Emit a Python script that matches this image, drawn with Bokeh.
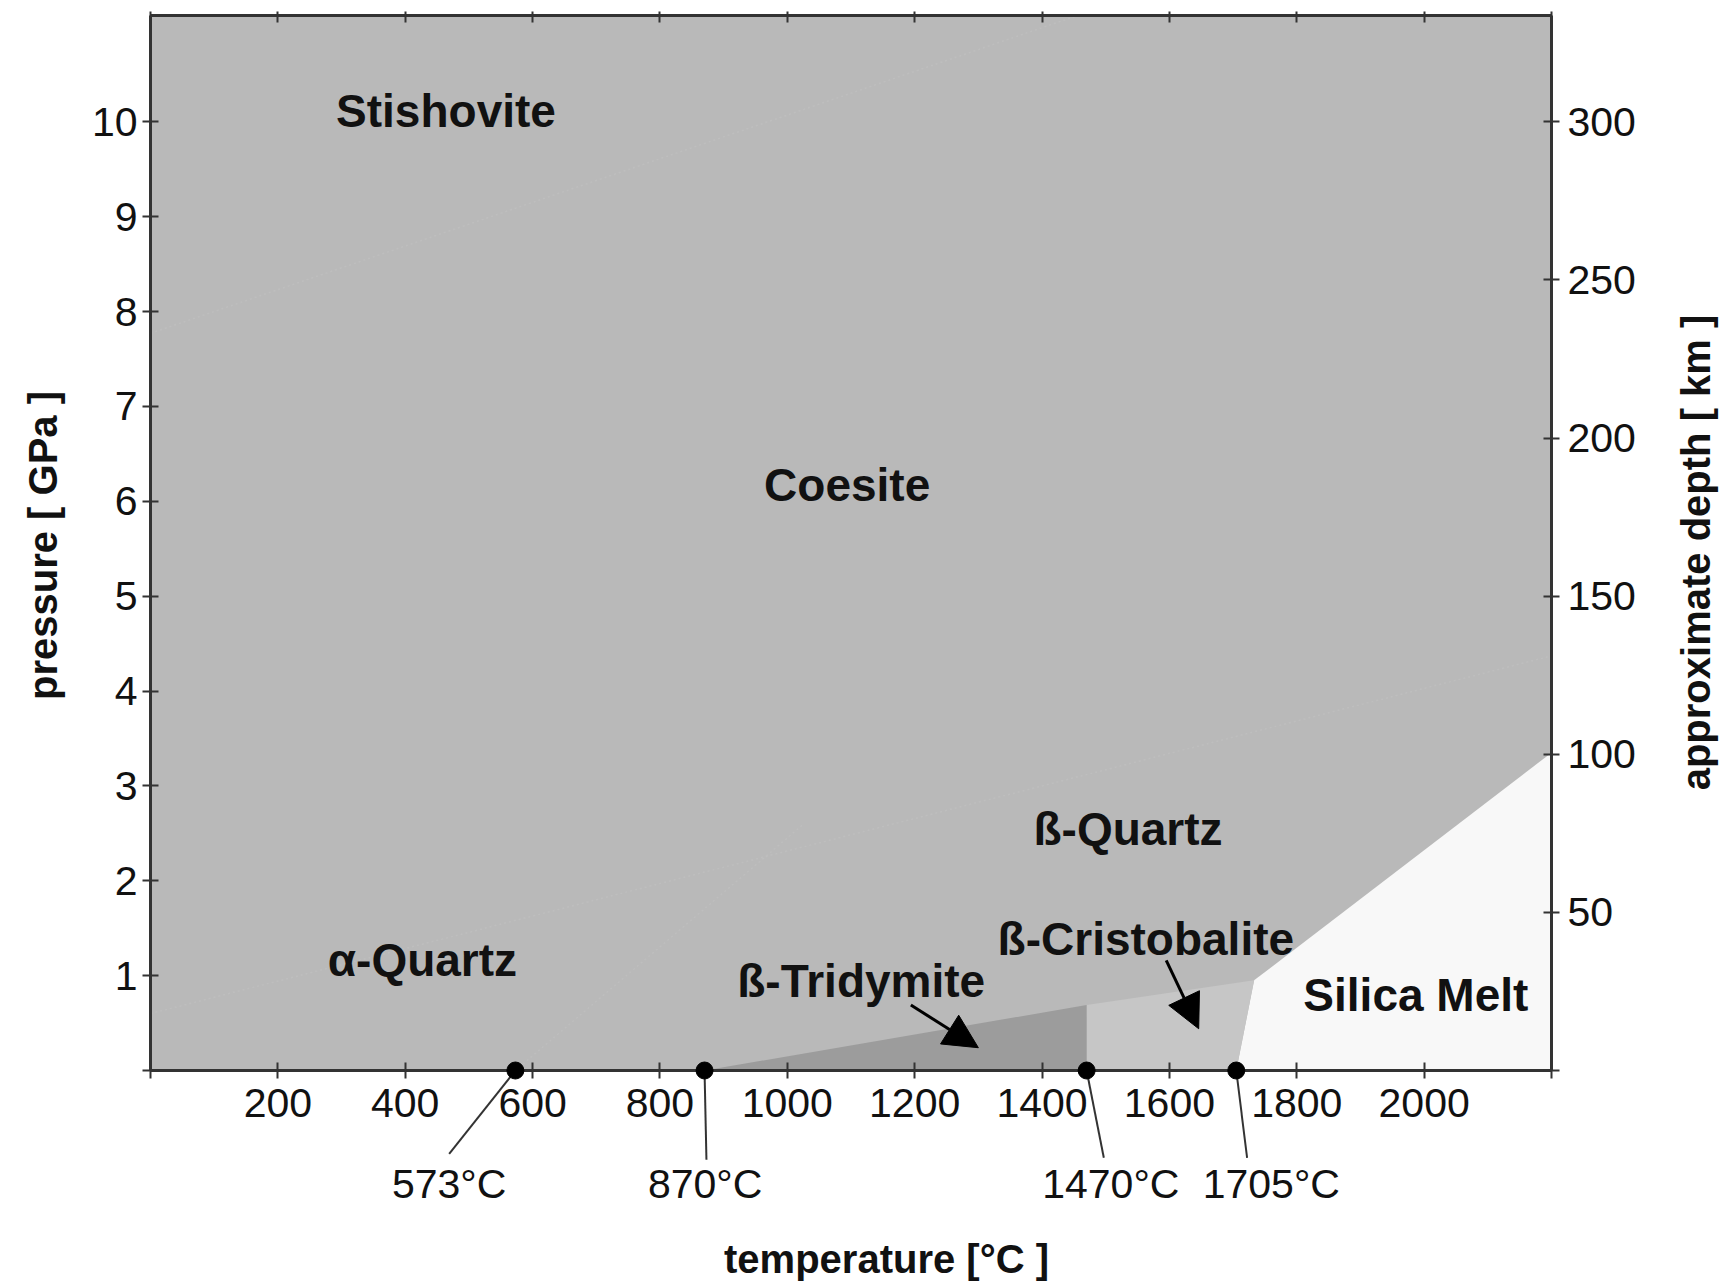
from math import pi

from bokeh.plotting import figure
from bokeh.models import Range1d, LinearAxis, FixedTicker, Label, Arrow, NormalHead
from bokeh.embed import file_html
from bokeh.resources import INLINE

# ---- axis extents and ticks ----
t_range = [0, 2200]            # temperature, degC
p_range = [0, 11.12]           # pressure, GPa
km_per_gpa = 30                # approximate depth conversion

temp_ticks = list(range(0, 2201, 200))
pressure_ticks = list(range(0, 11))
depth_ticks = list(range(0, 301, 50))

# ---- transitions at ambient pressure ----
transition_temps = [573, 870, 1470, 1705]
transition_text_T = [469, 871, 1508, 1760]
leader_end_T = [469, 873, 1497, 1722]
leader_end_P = [-0.88, -0.94, -0.92, -0.92]
transition_text_P = -1.2

# ---- phase fields (temperature, pressure) ----
tridymite_T = [870, 1470, 1470]
tridymite_P = [0, 0, 0.69]
cristobalite_T = [1470, 1470, 1733, 1705]
cristobalite_P = [0, 0.69, 0.95, 0]
melt_T = [1705, 1733, 2200, 2200]
melt_P = [0, 0.95, 3.35, 0]

# faint solid-solid boundaries inside the grey field
stish_coes_T = [0, 1456]
stish_coes_P = [7.77, 11.12]
coes_qtz_T = [0, 2200]
coes_qtz_P = [0.6, 4.37]
alpha_beta_T = [573, 1026]
alpha_beta_P = [0, 2.6]

# ---- phase names ----
phase_names = ["Stishovite", "Coesite", "ß-Quartz", "α-Quartz",
               "ß-Tridymite", "ß-Cristobalite", "Silica Melt"]
phase_T = [464, 1094, 1535, 427, 1116, 1563, 1987]
phase_P = [10.11, 6.17, 2.55, 1.16, 0.94, 1.39, 0.80]

# pointer arrows (tail -> head)
pointer_T0 = [1194, 1595]
pointer_P0 = [0.69, 1.16]
pointer_T1 = [1300, 1646]
pointer_P1 = [0.24, 0.44]

# ---- page layout (pixels) ----
W, H = 1720, 1285
box_left, box_right, box_top, box_bottom = 150, 1551, 15, 1070
sx = (box_right - box_left) / (t_range[1] - t_range[0])
sy = (box_bottom - box_top) / (p_range[1] - p_range[0])
x_view = (t_range[0] - box_left / sx, t_range[1] + (W - box_right) / sx)
y_view = (p_range[0] - (H - box_bottom) / sy, p_range[1] + box_top / sy)


def at_px(px, py):
    """Data position of a pixel on the page (for placing titles)."""
    return t_range[0] + (px - box_left) / sx, p_range[0] + (box_bottom - py) / sy


FONT = "Liberation Sans"
INK = "#333333"
TXT = "#111111"

p = figure(width=W, height=H, output_backend="svg", toolbar_location=None,
           x_range=Range1d(*x_view), y_range=Range1d(*y_view), min_border=0)
p.background_fill_color = "white"
p.border_fill_color = "white"
p.outline_line_color = None
p.grid.visible = False

# solid SiO2 field, then the other phase fields on top
p.quad(left=t_range[0], right=t_range[1], bottom=p_range[0], top=p_range[1],
       fill_color="#b9b9b9", line_color=None)
p.patch(melt_T, melt_P, fill_color="#f8f8f8", line_color=None)
p.patch(cristobalite_T, cristobalite_P, fill_color="#c6c6c6", line_color=None)
p.patch(tridymite_T, tridymite_P, fill_color="#9c9c9c", line_color=None)

for xs, ys in [(stish_coes_T, stish_coes_P), (coes_qtz_T, coes_qtz_P),
               (alpha_beta_T, alpha_beta_P)]:
    p.line(xs, ys, line_color="#bebebe", line_width=1.5, line_dash="2 3")

# leaders from the transition points to their temperature texts
p.segment(x0=transition_temps, y0=[0] * len(transition_temps),
          x1=leader_end_T, y1=leader_end_P, line_color=INK, line_width=2)
for t, tx in zip(transition_temps, transition_text_T):
    p.add_layout(Label(x=tx, y=transition_text_P, text=f"{t}°C", text_align="center",
                       text_baseline="middle", text_font=FONT,
                       text_font_size="41px", text_color=TXT))

# pointer arrows
for x0, y0, x1, y1 in zip(pointer_T0, pointer_P0, pointer_T1, pointer_P1):
    p.add_layout(Arrow(end=NormalHead(size=34, fill_color="black", line_color="black"),
                       x_start=x0, y_start=y0, x_end=x1, y_end=y1,
                       line_color="black", line_width=3))

# phase names
for name, t, pr in zip(phase_names, phase_T, phase_P):
    p.add_layout(Label(x=t, y=pr, text=name, text_align="center",
                       text_baseline="middle", text_font=FONT,
                       text_font_style="bold", text_font_size="46px",
                       text_color=TXT))


# ---- axes drawn around the diagram box ----
def style_axis(ax, ticks, hidden):
    ax.ticker = FixedTicker(ticks=ticks)
    ax.major_label_overrides = {v: "" for v in hidden}
    ax.minor_tick_line_color = None
    ax.major_tick_in = 8
    ax.major_tick_out = 8
    ax.major_tick_line_width = 2
    ax.major_tick_line_color = INK
    ax.axis_line_width = 3
    ax.axis_line_color = INK
    ax.major_label_text_font = FONT
    ax.major_label_text_font_size = "41px"
    ax.major_label_text_color = TXT


xa = p.xaxis[0]
style_axis(xa, temp_ticks, [0, 2200])
xa.fixed_location = p_range[0]
xa.bounds = tuple(t_range)
xa.major_label_standoff = 10

ya = p.yaxis[0]
style_axis(ya, pressure_ticks, [0])
ya.fixed_location = t_range[0]
ya.bounds = tuple(p_range)
ya.major_label_standoff = 5

p.extra_y_ranges = {"depth": Range1d(y_view[0] * km_per_gpa, y_view[1] * km_per_gpa)}
ra = LinearAxis(y_range_name="depth")
style_axis(ra, depth_ticks, [0])
ra.fixed_location = t_range[1]
ra.bounds = (p_range[0] * km_per_gpa, p_range[1] * km_per_gpa)
ra.major_label_standoff = 8
p.add_layout(ra, "right")

ta = LinearAxis()
style_axis(ta, temp_ticks, temp_ticks)
ta.fixed_location = p_range[1]
ta.bounds = tuple(t_range)
ta.major_tick_in = 7
ta.major_tick_out = 4
ta.major_label_text_font_size = "0px"
ta.major_label_standoff = 0
p.add_layout(ta, "above")

# transition points sit on top of the bottom axis line
p.scatter(transition_temps, [0] * len(transition_temps), size=17,
          fill_color="black", line_color="black", level="overlay")

# axis titles
titles = [("temperature [°C ]", at_px(886, 1258), 0),
          ("pressure [ GPa ]", at_px(42, 545), pi / 2),
          ("approximate depth [ km ]", at_px(1695, 552), pi / 2)]
for text, (tx, ty), ang in titles:
    p.add_layout(Label(x=tx, y=ty, text=text, angle=ang, text_align="center",
                       text_baseline="middle", text_font=FONT,
                       text_font_style="bold", text_font_size="40px",
                       text_color=TXT))

open("out.html", "w").write(file_html(p, INLINE))
